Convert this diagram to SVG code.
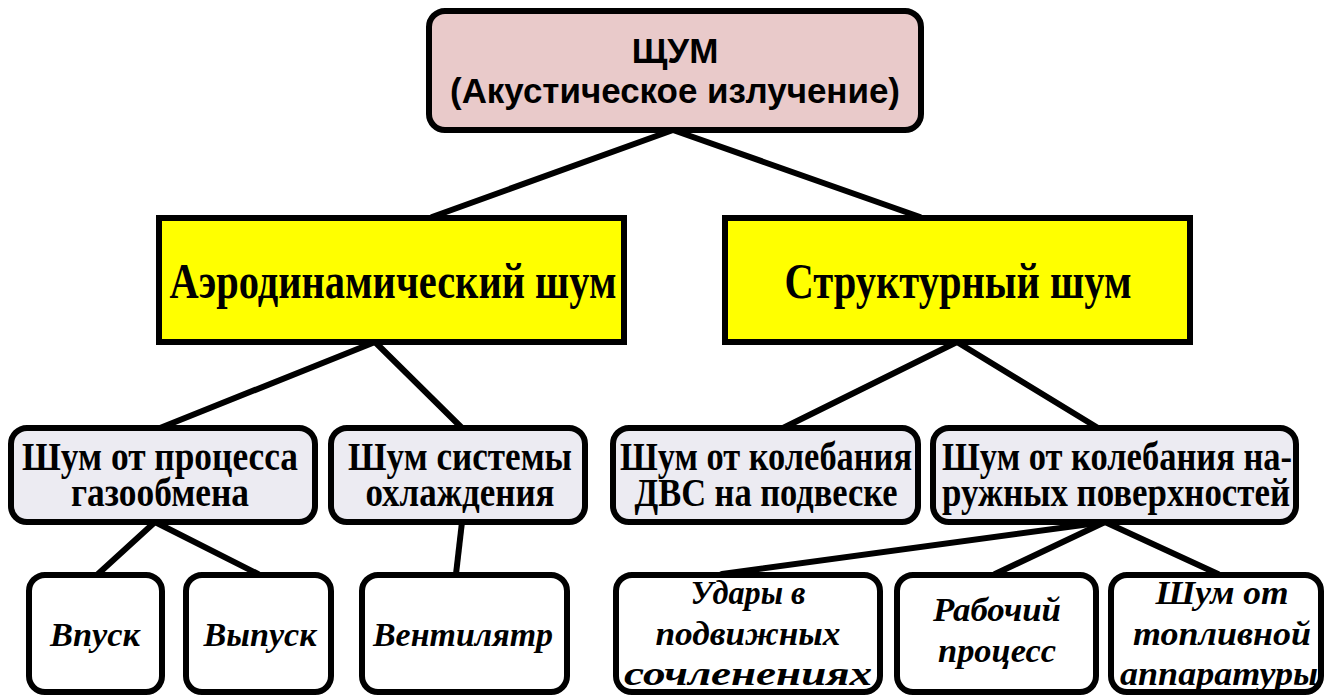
<svg xmlns="http://www.w3.org/2000/svg" width="1326" height="696" viewBox="0 0 1326 696">
<style>
.ln{stroke:#000;stroke-width:6;fill:none;stroke-linecap:round}
.top{fill:#e9caca;stroke:#000;stroke-width:6}
.yel{fill:#ffff00;stroke:#000;stroke-width:6}
.mid{fill:#ecebf2;stroke:#000;stroke-width:6}
.low{fill:#ffffff;stroke:#000;stroke-width:6}
</style>
<rect x="0" y="0" width="1326" height="696" fill="#ffffff"/>
<g id="connectors">
<line class="ln" x1="673" y1="130" x2="432" y2="217"/>
<line class="ln" x1="673" y1="130" x2="920" y2="217"/>
<line class="ln" x1="375" y1="342" x2="160" y2="428"/>
<line class="ln" x1="375" y1="342" x2="462" y2="428"/>
<line class="ln" x1="957" y1="342" x2="783" y2="428"/>
<line class="ln" x1="957" y1="342" x2="1098" y2="428"/>
<line class="ln" x1="155" y1="522" x2="98" y2="574"/>
<line class="ln" x1="155" y1="522" x2="258" y2="574"/>
<line class="ln" x1="462" y1="522" x2="456" y2="574"/>
<line class="ln" x1="1105" y1="522" x2="722" y2="574"/>
<line class="ln" x1="1105" y1="522" x2="995" y2="574"/>
<line class="ln" x1="1105" y1="522" x2="1218" y2="574"/>
</g>
<g id="n-shum" font-family="'Liberation Sans', sans-serif" font-weight="bold" font-size="35">
<rect class="top" x="429" y="11" width="492" height="119" rx="16"/>
<text x="675" y="63" text-anchor="middle">ЩУМ</text>
<text x="450" y="103" textLength="450" lengthAdjust="spacingAndGlyphs">(Акустическое излучение)</text>
</g>
<g id="n-aero" font-family="'Liberation Serif', serif" font-weight="bold" font-size="50">
<rect class="yel" x="159" y="218" width="465" height="124"/>
<text x="169.5" y="298" textLength="447" lengthAdjust="spacingAndGlyphs">Аэродинамический шум</text>
</g>
<g id="n-struct" font-family="'Liberation Serif', serif" font-weight="bold" font-size="50">
<rect class="yel" x="725" y="218" width="465" height="124"/>
<text x="784.5" y="298" textLength="347" lengthAdjust="spacingAndGlyphs">Структурный шум</text>
</g>
<g id="n-gas" font-family="'Liberation Serif', serif" font-weight="bold" font-size="41">
<rect class="mid" x="11" y="428" width="304" height="94" rx="16"/>
<text x="22" y="470" textLength="276" lengthAdjust="spacingAndGlyphs">Шум от процесса</text>
<text x="71" y="506" textLength="178" lengthAdjust="spacingAndGlyphs">газообмена</text>
</g>
<g id="n-cool" font-family="'Liberation Serif', serif" font-weight="bold" font-size="41">
<rect class="mid" x="331" y="428" width="254" height="94" rx="16"/>
<text x="348" y="470" textLength="224" lengthAdjust="spacingAndGlyphs">Шум системы</text>
<text x="365.5" y="506" textLength="189" lengthAdjust="spacingAndGlyphs">охлаждения</text>
</g>
<g id="n-mount" font-family="'Liberation Serif', serif" font-weight="bold" font-size="41">
<rect class="mid" x="613" y="428" width="305" height="94" rx="16"/>
<text x="620" y="470" textLength="292" lengthAdjust="spacingAndGlyphs">Шум от колебания</text>
<text x="634.5" y="506" textLength="263" lengthAdjust="spacingAndGlyphs">ДВС на подвеске</text>
</g>
<g id="n-surf" font-family="'Liberation Serif', serif" font-weight="bold" font-size="41">
<rect class="mid" x="933" y="428" width="363" height="94" rx="16"/>
<text x="942" y="470" textLength="350" lengthAdjust="spacingAndGlyphs">Шум от колебания на-</text>
<text x="942" y="506" textLength="348" lengthAdjust="spacingAndGlyphs">ружных поверхностей</text>
</g>
<g id="n-intake" font-family="'Liberation Serif', serif" font-weight="bold" font-style="italic" font-size="34">
<rect class="low" x="29" y="575" width="133" height="117" rx="16"/>
<text x="50" y="646" textLength="90" lengthAdjust="spacingAndGlyphs">Впуск</text>
</g>
<g id="n-exhaust" font-family="'Liberation Serif', serif" font-weight="bold" font-style="italic" font-size="34">
<rect class="low" x="186" y="575" width="145" height="117" rx="16"/>
<text x="203.5" y="646" textLength="113" lengthAdjust="spacingAndGlyphs">Выпуск</text>
</g>
<g id="n-fan" font-family="'Liberation Serif', serif" font-weight="bold" font-style="italic" font-size="34">
<rect class="low" x="362" y="575" width="205" height="117" rx="16"/>
<text x="373" y="646" textLength="180" lengthAdjust="spacingAndGlyphs">Вентилятр</text>
</g>
<g id="n-impact" font-family="'Liberation Serif', serif" font-weight="bold" font-style="italic" font-size="34">
<rect class="low" x="616" y="575" width="264" height="117" rx="16"/>
<text x="690.5" y="604" textLength="115" lengthAdjust="spacingAndGlyphs">Удары в</text>
<text x="655.5" y="645" textLength="185" lengthAdjust="spacingAndGlyphs">подвижных</text>
<text x="624" y="685" textLength="248" lengthAdjust="spacingAndGlyphs">сочленениях</text>
</g>
<g id="n-work" font-family="'Liberation Serif', serif" font-weight="bold" font-style="italic" font-size="34">
<rect class="low" x="897" y="575" width="199" height="117" rx="16"/>
<text x="933" y="621" textLength="128" lengthAdjust="spacingAndGlyphs">Рабочий</text>
<text x="938" y="662" textLength="118" lengthAdjust="spacingAndGlyphs">процесс</text>
</g>
<g id="n-fuel" font-family="'Liberation Serif', serif" font-weight="bold" font-style="italic" font-size="34">
<rect class="low" x="1111" y="575" width="210" height="117" rx="16"/>
<text x="1155.5" y="604" textLength="133" lengthAdjust="spacingAndGlyphs">Шум от</text>
<text x="1133" y="645" textLength="178" lengthAdjust="spacingAndGlyphs">топливной</text>
<text x="1120" y="685" textLength="198" lengthAdjust="spacingAndGlyphs">аппаратуры</text>
</g>
</svg>
